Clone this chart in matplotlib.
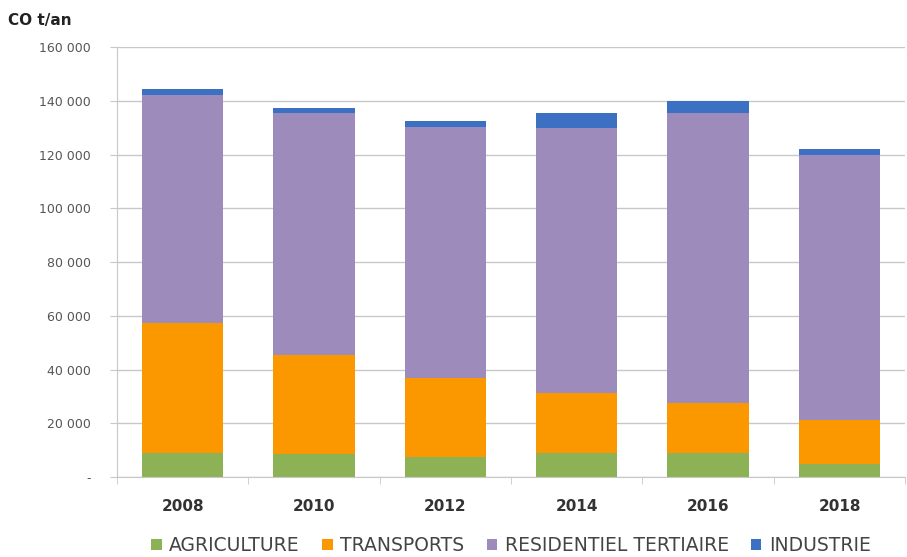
import numpy as np
import matplotlib.pyplot as plt
from matplotlib.ticker import FuncFormatter, FixedLocator

# Données (t/an)
annees = ['2008', '2010', '2012', '2014', '2016', '2018']
agriculture = [8800, 8500, 7600, 9000, 9000, 5000]
transports = [48400, 36900, 29100, 22100, 18400, 16200]
residentiel = [84900, 89900, 93600, 98600, 107900, 98600]
industrie = [2200, 1900, 2300, 5600, 4700, 2100]

series = [
    ('AGRICULTURE', agriculture, '#8db255'),
    ('TRANSPORTS', transports, '#fb9800'),
    ('RESIDENTIEL TERTIAIRE', residentiel, '#9d8bbc'),
    ('INDUSTRIE', industrie, '#3b70c2'),
]

fig = plt.figure(figsize=(9.07, 5.57), dpi=100)
ax = fig.add_axes([0.129, 0.1436, 0.869, 0.772])

x = np.arange(len(annees))
bottom = np.zeros(len(annees))
for nom, vals, col in series:
    ax.bar(x, vals, width=0.62, bottom=bottom, color=col, label=nom, zorder=2)
    bottom += np.array(vals)

ax.set_xlim(-0.5, len(annees) - 0.5)
ax.set_ylim(0, 160000)
ax.set_yticks(np.arange(0, 160001, 20000))

def fmt(v, pos):
    if v == 0:
        return '-'
    return f'{int(v):,}'.replace(',', ' ')

ax.yaxis.set_major_formatter(FuncFormatter(fmt))
ax.grid(axis='y', color='#c8c8c8', linewidth=1, zorder=0)

for s in ['top', 'right']:
    ax.spines[s].set_visible(False)
ax.spines['left'].set_color('#c8c8c8')
ax.spines['bottom'].set_color('#c8c8c8')

ax.tick_params(axis='y', length=5, color='#c8c8c8', labelsize=9, labelcolor='#555555', pad=14)
ax.set_xticks(x)
ax.set_xticklabels(annees, fontsize=11, fontweight='bold', color='#333333')
ax.tick_params(axis='x', length=0, pad=16)
ax.xaxis.set_minor_locator(FixedLocator(np.arange(-0.5, len(annees), 1.0)))
ax.tick_params(axis='x', which='minor', length=5, color='#c8c8c8')

fig.text(0.009, 0.955, 'CO t/an', fontsize=11, fontweight='bold', color='#222222')

ax.legend(loc='center', bbox_to_anchor=(0.5, -0.16), ncol=4, frameon=False,
          fontsize=13.5, handlelength=0.55, handleheight=0.55, handletextpad=0.4,
          columnspacing=1.2, labelcolor='#444444', borderpad=0)

fig.savefig('out.png', dpi=100)
